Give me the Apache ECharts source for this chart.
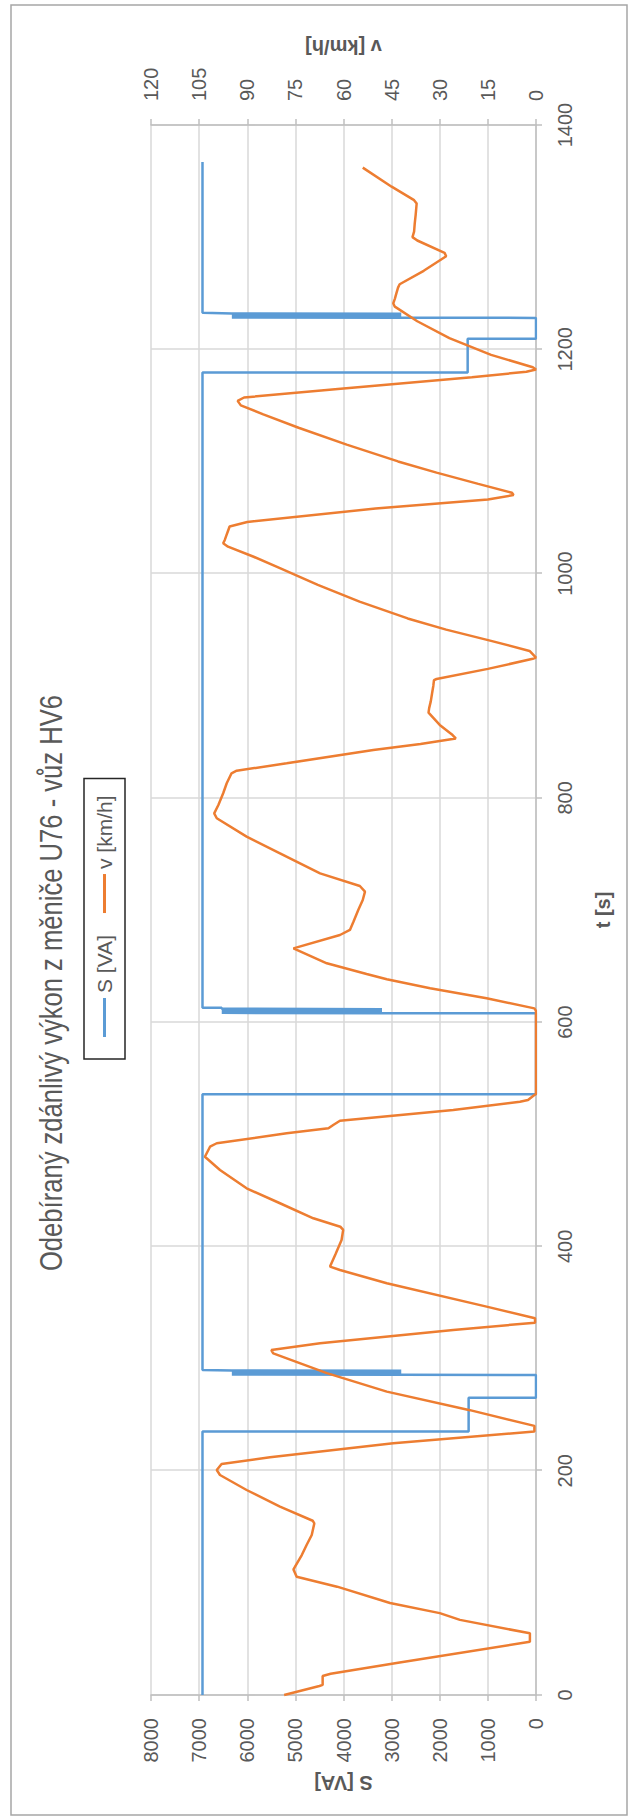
<!DOCTYPE html>
<html>
<head>
<meta charset="utf-8">
<script src="https://cdn.jsdelivr.net/npm/echarts@6.0.0/dist/echarts.min.js"></script>
<style>
  html, body { margin: 0; padding: 0; background: #fff; width: 630px; height: 1818px; overflow: hidden; }
  /* landscape chart, turned a quarter turn counter-clockwise onto the portrait page */
  #chart { position: absolute; left: 0; top: 0; width: 1818px; height: 630px;
           transform-origin: 0 0; transform: translateY(1818px) rotate(-90deg); }
</style>
</head>
<body>
<div id="chart"></div>
<script>
// apparent power drawn from converter U76 [VA] over time [s]
const powerT = [0, 235, 235, 265, 265, 285.4,
  285.5, 285.8, 286.1, 286.4, 286.7, 287.0, 287.3, 287.6, 287.9, 288.2, 288.5, 288.8, 289.1, 289.4, 289.8, 289.8,
  535.6, 535.6, 607.9,
  608.0, 608.3, 608.6, 608.9, 609.2, 609.5, 609.8, 610.1, 610.4, 610.7, 611.0, 611.3, 611.6, 611.9, 612.3, 612.9, 612.9,
  1179.4, 1179.4, 1209.4, 1209.4, 1228.0,
  1228.1, 1228.4, 1228.7, 1229.0, 1229.3, 1229.6, 1229.9, 1230.2, 1230.5, 1230.8, 1231.1, 1231.4, 1231.7, 1232.0, 1232.5, 1232.5,
  1367];
const powerS = [6930, 6930, 1400, 1400, 0, 0,
  2800, 6320, 2800, 6320, 2800, 6320, 2800, 6320, 2800, 6320, 2800, 6320, 2800, 6320, 6320, 6930,
  6930, 0, 0,
  3200, 6530, 3200, 6530, 3200, 6530, 3200, 6530, 3200, 6530, 3200, 6530, 3200, 6530, 6530, 6530, 6930,
  6930, 1420, 1420, 0, 0,
  2800, 6320, 2800, 6320, 2800, 6320, 2800, 6320, 2800, 6320, 2800, 6320, 2800, 6320, 6320, 6930,
  6930];

// vehicle speed [km/h] over time [s]
const speedT = [0, 8, 9, 17, 19, 29, 47.5, 55, 67, 73, 82, 96.6, 105.5, 112, 114.4, 124.8, 133.8, 142.7, 153, 155.4,
  167.9, 182.8, 196.2, 200.6, 206, 212, 224.4, 235, 240, 254, 270.5, 287, 304.7, 307.6, 313.6, 325.5, 332, 336,
  346.3, 367.1, 379, 382, 393, 405.7, 414.7, 417.6, 425.1, 438.5, 451.8, 468.2, 480, 488.9, 492, 500.9, 505.3,
  508.3, 512.1, 521.7, 529, 530.6, 535, 536, 610, 612.3, 621.3, 630.2, 638.2, 642.9, 652.5, 665.8, 677.7, 682.2,
  689.6, 700, 708.9, 716.4, 721.4, 732.7, 750.5, 765.4, 781.8, 786.2, 793.6, 804.1, 813, 821.9, 824.2, 830.8,
  842.7, 848, 853, 856, 865, 876, 880, 886, 893, 900, 905, 906, 915, 924, 925, 931,
  940, 950, 960, 975, 990, 1005, 1015, 1024, 1027, 1030, 1034, 1038, 1042, 1046, 1058, 1066, 1070, 1072,
  1080, 1090, 1100, 1115, 1130, 1142, 1150, 1154, 1157, 1165, 1175, 1180, 1182, 1184, 1195, 1210, 1225, 1238,
  1241, 1245, 1250, 1255, 1258, 1270, 1283, 1286, 1297, 1300, 1305, 1312, 1320, 1330, 1333, 1345, 1362];
const speedV = [78.5, 67.5, 66.5, 66.5, 64, 42.5, 1.9, 1.9, 23.7, 30, 45.5, 62, 74.6, 75.6, 75.1, 73, 71.5, 69.9, 69.1, 69.6,
  79.8, 90.2, 98.5, 99.5, 98, 82.9, 44.5, 0.5, 0.5, 20.6, 46.5, 65.2, 81.9, 82.5, 67.3, 25.8, 0.3, 0.3,
  15.4, 46.5, 61.1, 64.2, 62.5, 60.6, 60.1, 61, 69.4, 79.8, 90.2, 98.5, 103.2, 101.6, 99.5, 77.7, 64.7,
  63.2, 61.1, 25.8, 5, 2.5, 0.5, 0, 0, 0.5, 15.4, 33, 46.5, 52.8, 65.2, 75.6, 61.1, 58,
  56.9, 55.4, 54, 53.3, 54.9, 67.3, 79.8, 90.2, 99.5, 100.3, 99, 97.5, 96.4, 94.9, 93.3, 77.7,
  50.7, 36, 25, 26, 30, 33.5, 33.3, 32.8, 32.4, 32, 31.8, 31, 15, 1, 0, 2,
  14, 28, 40, 55, 68, 80, 88, 96, 97.5, 97, 96.5, 96, 95.5, 90, 50, 15, 7, 7.5,
  18, 31, 43, 59, 74, 85, 92, 93, 91, 60, 20, 3, 0, 1, 14, 27, 37, 44,
  44.5, 44, 43.5, 43, 42.5, 35, 28, 28.5, 37, 38.5, 38, 37.8, 37.5, 37.2, 38, 45, 54];

const timeTicks = { min: 0, max: 1400, step: 200 };
const powerTicks = { min: 0, max: 8000, step: 1000 };
const speedTicks = { min: 0, max: 120, step: 15 };

const powerData = powerT.map((t, i) => [t, powerS[i]]);
const speedData = speedT.map((t, i) => [t, speedV[i]]);

const FONT = "'Liberation Sans', Arial, sans-serif";
const TXT = '#595959';
const plain = v => String(v);

const chart = echarts.init(document.getElementById('chart'), null, { renderer: 'svg', width: 1818, height: 630 });
chart.setOption({
  animation: false,
  backgroundColor: '#fff',
  textStyle: { fontFamily: FONT },
  graphic: [
    { type: 'rect', shape: { x: 3, y: 11, width: 1810, height: 616 }, silent: true,
      style: { fill: 'none', stroke: '#a6a6a6', lineWidth: 1.5 } },
    // condensed title face: taller glyphs at the same run length
    { type: 'text', x: 835, y: 51, scaleX: 0.8, silent: true,
      style: { text: 'Odebíraný zdánlivý výkon z měniče U76 - vůz HV6', fontFamily: FONT, fontSize: 32,
               fill: TXT, align: 'center', verticalAlign: 'middle' } }
  ],
  legend: {
    left: 759, top: 84, orient: 'horizontal',
    padding: [10, 17, 10, 22], itemGap: 22, itemWidth: 39, itemHeight: 3, icon: 'rect',
    borderColor: '#262626', borderWidth: 1.5,
    textStyle: { fontFamily: FONT, fontSize: 21, color: TXT },
    data: ['S [VA]', 'v [km/h]']
  },
  grid: { left: 123, right: 125, top: 151, bottom: 94 },
  xAxis: {
    type: 'value', min: timeTicks.min, max: timeTicks.max, interval: timeTicks.step,
    name: 't [s]', nameLocation: 'middle', nameGap: 57,
    nameTextStyle: { fontFamily: FONT, fontSize: 20, fontWeight: 'bold', color: TXT },
    axisLine: { show: true, lineStyle: { color: '#bfbfbf', width: 1.5 } },
    axisTick: { show: true, length: 6, lineStyle: { color: '#bfbfbf', width: 1.5 } },
    splitLine: { show: true, lineStyle: { color: '#d9d9d9', width: 1.5 } },
    axisLabel: { fontFamily: FONT, fontSize: 20, color: TXT, margin: 19, formatter: plain }
  },
  yAxis: [
    {
      type: 'value', position: 'left', min: powerTicks.min, max: powerTicks.max, interval: powerTicks.step,
      name: 'S [VA]', nameLocation: 'middle', nameRotate: 90, nameGap: 76,
      nameTextStyle: { fontFamily: FONT, fontSize: 20, fontWeight: 'bold', color: TXT },
      axisLine: { show: true, lineStyle: { color: '#bfbfbf', width: 1.5 } },
      axisTick: { show: true, length: 6, lineStyle: { color: '#bfbfbf', width: 1.5 } },
      splitLine: { show: true, lineStyle: { color: '#d9d9d9', width: 1.5 } },
      axisLabel: { fontFamily: FONT, fontSize: 20, color: TXT, margin: 23, formatter: plain }
    },
    {
      type: 'value', position: 'right', min: speedTicks.min, max: speedTicks.max, interval: speedTicks.step,
      name: 'v [km/h]', nameLocation: 'middle', nameRotate: 90, nameGap: 68,
      nameTextStyle: { fontFamily: FONT, fontSize: 20, fontWeight: 'bold', color: TXT },
      axisLine: { show: true, lineStyle: { color: '#bfbfbf', width: 1.5 } },
      axisTick: { show: true, length: 6, lineStyle: { color: '#bfbfbf', width: 1.5 } },
      splitLine: { show: false },
      axisLabel: { fontFamily: FONT, fontSize: 20, color: TXT, margin: 24, formatter: plain }
    }
  ],
  series: [
    { name: 'S [VA]', type: 'line', yAxisIndex: 0, data: powerData, showSymbol: false, symbol: 'none',
      color: '#5b9bd5', lineStyle: { color: '#5b9bd5', width: 2.5 } },
    { name: 'v [km/h]', type: 'line', yAxisIndex: 1, data: speedData, showSymbol: false, symbol: 'none',
      color: '#ed7d31', lineStyle: { color: '#ed7d31', width: 2.5 } }
  ]
});
</script>
</body>
</html>
